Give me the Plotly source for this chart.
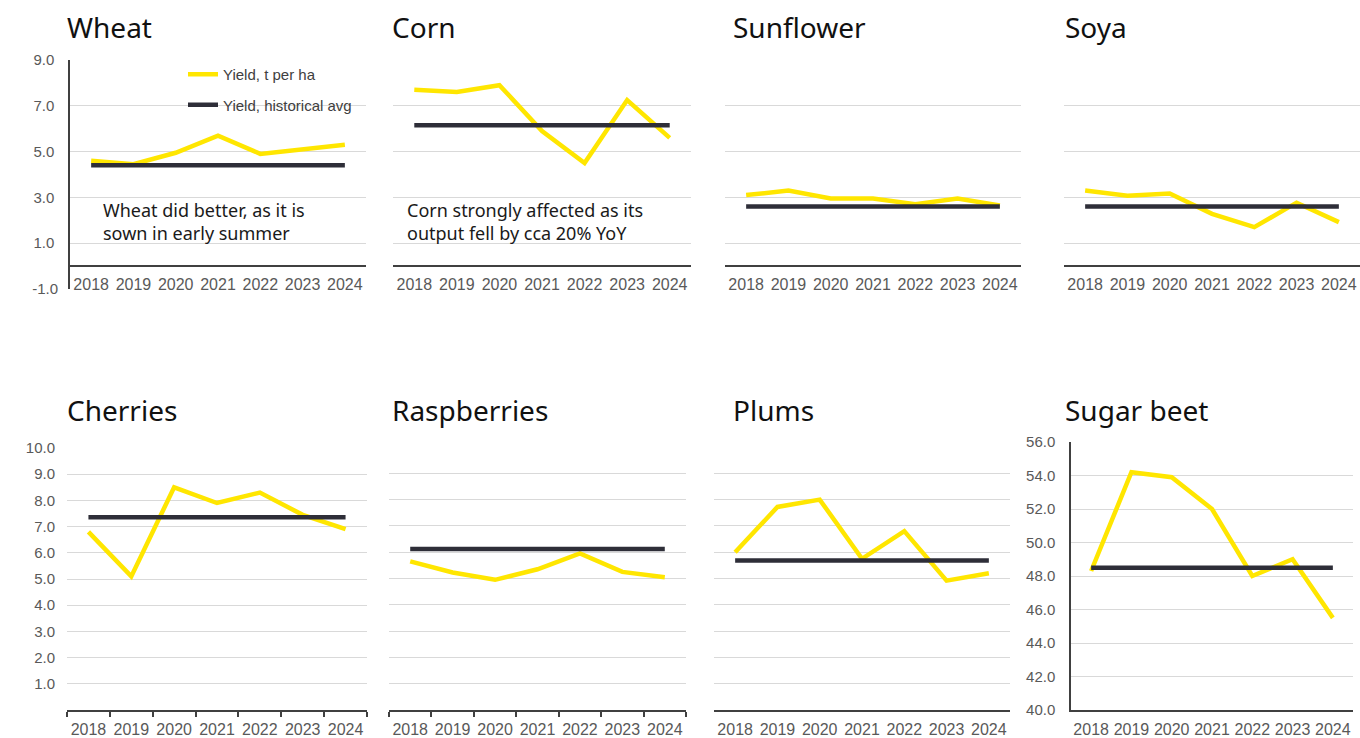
import plotly.graph_objects as go

# ---------------- data ----------------
years = ["2018", "2019", "2020", "2021", "2022", "2023", "2024"]

crops = ["Wheat", "Corn", "Sunflower", "Soya",
         "Cherries", "Raspberries", "Plums", "Sugar beet"]

wheat = [4.6, 4.45, 4.95, 5.7, 4.9, 5.1, 5.3]
corn = [7.7, 7.6, 7.9, 5.9, 4.5, 7.25, 5.6]
sunflower = [3.1, 3.3, 2.95, 2.95, 2.7, 2.95, 2.65]
soya = [3.3, 3.07, 3.17, 2.28, 1.7, 2.77, 1.92]
cherries = [6.8, 5.1, 8.5, 7.9, 8.3, 7.45, 6.9]
raspberries = [5.65, 5.23, 4.95, 5.35, 5.95, 5.25, 5.05]
plums = [6.0, 7.72, 8.0, 5.75, 6.8, 4.92, 5.2]
sugar_beet = [48.3, 54.2, 53.9, 52.0, 48.0, 49.0, 45.5]

historical_avg = [4.4, 6.15, 2.6, 2.6, 7.36, 6.12, 5.68, 48.5]

series = [wheat, corn, sunflower, soya, cherries, raspberries, plums, sugar_beet]

top_ticks = [1, 3, 5, 7, 9]
top_range = [-1, 9]
fruit_ticks = [1, 2, 3, 4, 5, 6, 7, 8, 9, 10]
fruit_range = [0, 10]
beet_ticks = [40, 42, 44, 46, 48, 50, 52, 54, 56]
beet_range = [40, 56]

notes = {
    "Wheat": "Wheat did better, as it is<br>sown in early summer",
    "Corn": "Corn strongly affected as its<br>output fell by cca 20% YoY",
}

legend_names = ["Yield, t per ha", "Yield, historical avg"]

# ---------------- style / layout ----------------
W, H = 1360, 738
YELLOW = "#FFE600"
DARK = "#2E2E38"
GRID = "#D9D9D9"
AXIS = "#404040"
TICKC = "#595959"
TICKFONT = "Liberation Sans, Arial, sans-serif"
TITLEFONT = "Noto Sans, sans-serif"

# pixel boxes: (left, right, top, bottom)
boxes = [
    (70, 366, 60, 289), (393, 691, 60, 289), (725, 1021, 60, 289), (1064, 1360, 60, 289),
    (67, 367, 448, 710), (389, 686, 447, 710), (714, 1010, 447, 710), (1071, 1353, 442, 710),
]
title_pos = [(65, 27), (390, 27), (731, 27), (1063, 27),
             (65, 410), (390, 410), (731, 410), (1063, 410)]


def px(x):
    return x / W


def py(y):
    return 1 - y / H


fig = go.Figure()
layout = dict(
    width=W, height=H, autosize=False,
    margin=dict(l=0, r=0, t=0, b=0, pad=0, autoexpand=False),
    paper_bgcolor="white", plot_bgcolor="white",
    showlegend=True,
    legend=dict(x=px(183), xanchor="left", y=py(58), yanchor="top",
                bgcolor="rgba(0,0,0,0)", tracegroupgap=8,
                font=dict(family=TICKFONT, size=15, color="#404040"),
                itemwidth=30),
)
annotations = []

for i, crop in enumerate(crops):
    n = i + 1
    xa = "x" if n == 1 else f"x{n}"
    ya = "y" if n == 1 else f"y{n}"
    l, r, t, b = boxes[i]
    xdom = [px(l), px(r)]
    ydom = [py(b), py(t)]

    if i < 4:
        rng, ticks = top_range, top_ticks
    elif i < 7:
        rng, ticks = fruit_range, fruit_ticks
    else:
        rng, ticks = beet_range, beet_ticks

    show_ylabels = i in (0, 4, 7)
    show_yline = i in (0, 7)

    yax = dict(domain=ydom, range=rng, anchor=xa, tickmode="array",
               tickvals=ticks, ticktext=[f"{v:.1f}" for v in ticks],
               showgrid=True, gridcolor=GRID, gridwidth=1, zeroline=False,
               showticklabels=show_ylabels, ticks="",
               tickfont=dict(family=TICKFONT, size=15, color=TICKC),
               ticklabelstandoff=11, automargin=False,
               showline=show_yline, linecolor=AXIS, linewidth=1.5,
               fixedrange=True)

    xax = dict(domain=xdom, type="category", range=[-0.5, 6.5],
               showgrid=False, zeroline=False, showline=True,
               linecolor=AXIS, linewidth=1.5, tickangle=0,
               tickfont=dict(family=TICKFONT, size=16, color=TICKC),
               ticklabelstandoff=4, automargin=False,
               fixedrange=True)
    if i < 4:
        # category axis crosses the value axis at zero
        pos = ydom[0] + (0 - rng[0]) / (rng[1] - rng[0]) * (ydom[1] - ydom[0])
        xax.update(anchor="free", position=pos, ticks="")
    else:
        xax.update(anchor=ya)
        if i in (4, 5):
            xax.update(ticks="outside", tickson="boundaries", ticklen=5,
                       tickcolor=AXIS, tickwidth=1.5)
        else:
            xax.update(ticks="")

    layout["xaxis" if n == 1 else f"xaxis{n}"] = xax
    layout["yaxis" if n == 1 else f"yaxis{n}"] = yax

    avg_y = ya
    if i == 0:
        # overlay value axis carrying the bottom "-1.0" label
        layout["yaxis9"] = dict(overlaying="y", anchor="x", side="left",
                                range=rng, tickmode="array", tickvals=[rng[0]],
                                ticktext=[f"{rng[0]:.1f}"], showgrid=False,
                                zeroline=False, ticks="", automargin=False,
                                tickfont=dict(family=TICKFONT, size=15, color=TICKC),
                                ticklabelstandoff=11, fixedrange=True)
        avg_y = "y9"

    fig.add_trace(go.Scatter(
        x=years, y=series[i], xaxis=xa, yaxis=ya, mode="lines",
        line=dict(color=YELLOW, width=4.5),
        name=legend_names[0], legendgroup="g1", showlegend=(i == 0),
        hoverinfo="skip"))
    fig.add_trace(go.Scatter(
        x=years, y=[historical_avg[i]] * len(years), xaxis=xa, yaxis=avg_y,
        mode="lines", line=dict(color=DARK, width=4.5),
        name=legend_names[1], legendgroup="g2", showlegend=(i == 0),
        hoverinfo="skip"))

    tx, ty = title_pos[i]
    annotations.append(dict(
        text=crop, xref="paper", yref="paper", x=px(tx), y=py(ty),
        xanchor="left", yanchor="middle", showarrow=False,
        font=dict(family=TITLEFONT, size=28, color="#111111")))

    if crop in notes:
        annotations.append(dict(
            text=notes[crop], xref="paper", yref="paper",
            x=px(l + (31 if i == 0 else 12)), y=py(222),
            xanchor="left", yanchor="middle", align="left", showarrow=False,
            font=dict(family=TITLEFONT, size=18, color="#1A1A1A")))

layout["annotations"] = annotations
fig.update_layout(**layout)
fig.write_html(
    "out.html",
    config={"displayModeBar": False},
    post_script="document.documentElement.style.margin='0';"
                "document.body.style.margin='0';"
                "document.body.style.overflow='hidden';",
)
